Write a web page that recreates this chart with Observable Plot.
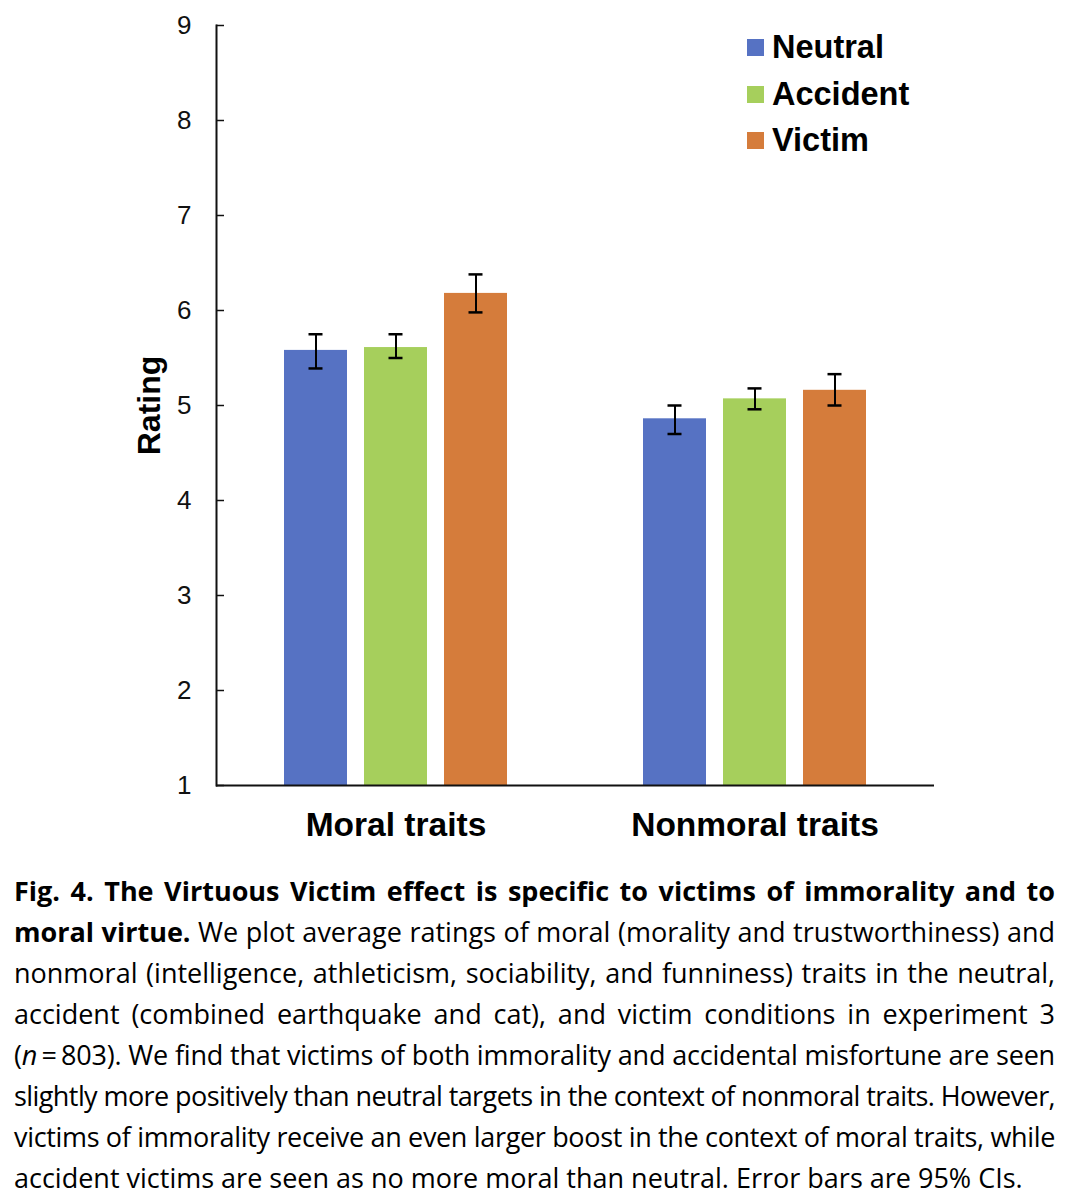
<!DOCTYPE html>
<html>
<head>
<meta charset="utf-8">
<script src="https://cdn.jsdelivr.net/npm/d3@7"></script>
<script src="https://cdn.jsdelivr.net/npm/@observablehq/plot@0.6"></script>
<style>
  html, body { margin: 0; padding: 0; background: #fff; }
  #wrap { position: relative; width: 1073px; height: 1200px; overflow: hidden; }
  #chart { position: absolute; left: 0; top: 0; }
  #legend { position: absolute; left: 747px; top: 24px; font-family: "Liberation Sans", Arial, sans-serif; font-weight: bold; font-size: 32.5px; color: #000; }
  #legend .row { display: flex; align-items: center; height: 46.8px; }
  #legend .sw { width: 17px; height: 17px; margin-right: 8px; }
  #caption { position: absolute; left: 14px; top: 870px; width: 1041px; font-family: "Open Sans", sans-serif; font-size: 27px; line-height: 41px; color: #000; }
  #caption .ln { text-align: justify; text-align-last: justify; white-space: nowrap; }
  #caption .ln.last { text-align-last: left; }
</style>
</head>
<body>
<div id="wrap">
  <div id="chart"></div>
  <div id="legend"></div>
  <div id="caption"></div>
</div>
<script>
// ---- data ----
const groups = ["Moral traits", "Nonmoral traits"];
const conditions = ["Neutral", "Accident", "Victim"];
const colors = ["#5672C3", "#A6CF5C", "#D57C3B"];
const moralMean = [5.58, 5.61, 6.18];
const moralLow = [5.39, 5.50, 5.98];
const moralHigh = [5.75, 5.75, 6.38];
const nonmoralMean = [4.86, 5.07, 5.16];
const nonmoralLow = [4.70, 4.96, 5.00];
const nonmoralHigh = [5.00, 5.18, 5.33];
const yTicks = [1, 2, 3, 4, 5, 6, 7, 8, 9];
const yLabel = "Rating";

const captionBold = ["Fig. 4. The Virtuous Victim effect is specific to victims of immorality and to", "moral virtue."];
const captionLines = [
  " We plot average ratings of moral (morality and trustworthiness) and",
  "nonmoral (intelligence, athleticism, sociability, and funniness) traits in the neutral,",
  "accident (combined earthquake and cat), and victim conditions in experiment 3",
  "(<i>n</i>\u2009=\u2009803). We find that victims of both immorality and accidental misfortune are seen",
  "slightly more positively than neutral targets in the context of nonmoral traits. However,",
  "victims of immorality receive an even larger boost in the context of moral traits, while",
  "accident victims are seen as no more moral than neutral. Error bars are 95% CIs."
];

// ---- table ----
const rows = [];
conditions.forEach((c, i) => {
  rows.push({group: groups[0], cond: c, mean: moralMean[i], lo: moralLow[i], hi: moralHigh[i]});
  rows.push({group: groups[1], cond: c, mean: nonmoralMean[i], lo: nonmoralLow[i], hi: nonmoralHigh[i]});
});

const chart = Plot.plot({
  width: 1073,
  height: 860,
  marginLeft: 215,
  marginRight: 139,
  marginTop: 25,
  marginBottom: 75,
  style: {fontFamily: "'Liberation Sans', Arial, sans-serif", color: "#000", background: "#fff"},
  fx: {domain: groups, padding: 0, label: null},
  x: {domain: conditions, paddingInner: 0.2125, paddingOuter: 0.846, axis: null},
  y: {domain: [1, 9], ticks: yTicks, label: null},
  color: {domain: conditions, range: colors},
  marks: [
    Plot.barY(rows, {fx: "group", x: "cond", y1: 1, y2: "mean", fill: "cond"}),
    Plot.ruleX(rows, {fx: "group", x: "cond", y1: "lo", y2: "hi", stroke: "#000", strokeWidth: 2}),
    Plot.tickY(rows, {fx: "group", x: "cond", y: "lo", stroke: "#000", strokeWidth: 2.5, inset: 24.5}),
    Plot.tickY(rows, {fx: "group", x: "cond", y: "hi", stroke: "#000", strokeWidth: 2.5, inset: 24.5}),
    Plot.ruleY([1], {stroke: "#111", strokeWidth: 2}),
    Plot.frame({anchor: "left", facetAnchor: "left", stroke: "#111", strokeWidth: 2}),
    Plot.axisY({anchor: "left", ticks: yTicks, tickSize: -8, tickPadding: 33, fontSize: 26, fill: "#111", stroke: "#111", strokeWidth: 1.5, label: null}),
    Plot.axisFx({anchor: "bottom", tickSize: 0, tickPadding: 27, fontSize: 33.5, fontWeight: "bold", label: null}),
    Plot.text([yLabel], {text: d => d, frameAnchor: "left", dx: -67, rotate: -90, textAnchor: "middle", facetAnchor: "left", fontSize: 32, fontWeight: "bold", fill: "#000"})
  ]
});
document.getElementById("chart").appendChild(chart);

// legend
const leg = document.getElementById("legend");
conditions.forEach((c, i) => {
  const r = document.createElement("div");
  r.className = "row";
  r.innerHTML = `<span class="sw" style="background:${colors[i]}"></span><span>${c}</span>`;
  leg.appendChild(r);
});

// caption
const cap = document.getElementById("caption");
let html = `<div class="ln"><span><b>${captionBold[0]}</b></span></div>`;
html += `<div class="ln"><span><b>${captionBold[1]}</b>${captionLines[0]}</span></div>`;
captionLines.slice(1).forEach((l, i, arr) => {
  html += `<div class="ln${i === arr.length - 1 ? " last" : ""}"><span>${l}</span></div>`;
});
cap.innerHTML = html;

function fitCaption() {
  const target = 1041;
  cap.querySelectorAll(".ln").forEach(div => {
    if (div.classList.contains("last")) return;
    const span = div.querySelector("span");
    span.style.letterSpacing = "0px";
    const w = span.getBoundingClientRect().width;
    const n = span.textContent.length;
    let ls = (target - w) / n;
    if (ls > 0) ls *= 0.4;
    span.style.letterSpacing = ls.toFixed(3) + "px";
  });
}
fitCaption();
if (document.fonts && document.fonts.ready) document.fonts.ready.then(fitCaption);
</script>
</body>
</html>
